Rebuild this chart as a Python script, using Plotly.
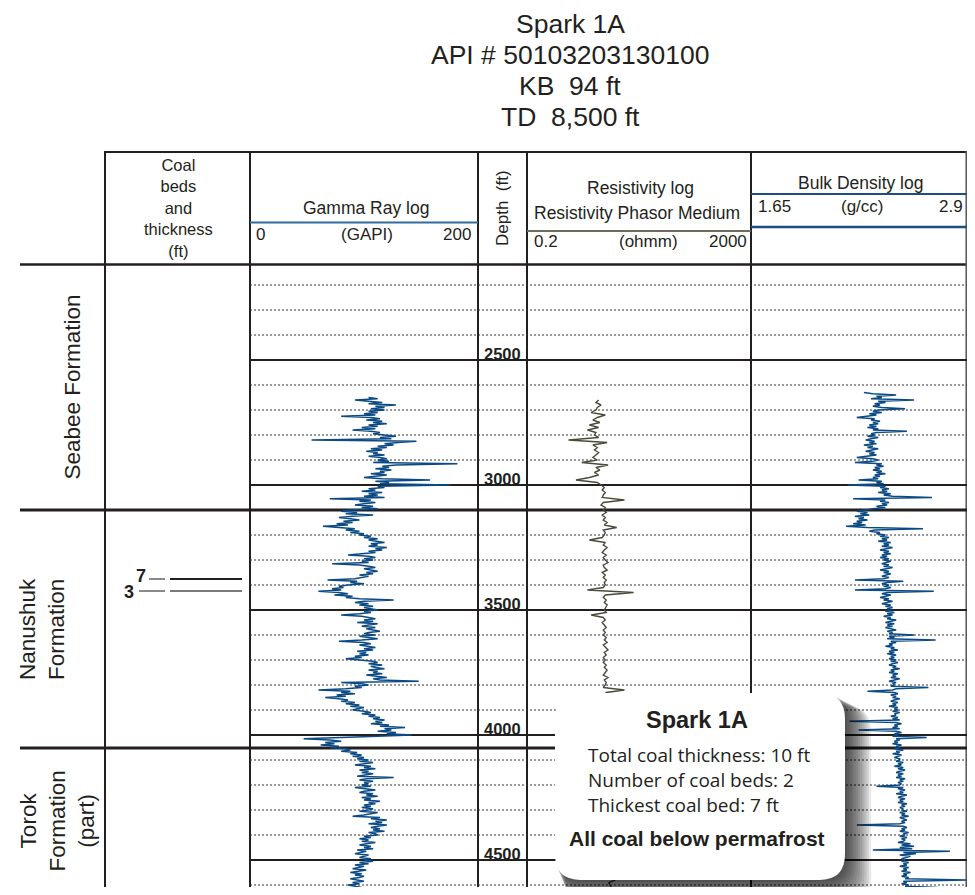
import plotly.graph_objects as go
import math

# The page body has an 8px margin; size the figure so the page never overflows the 975x895 window
OFF = 8
W, H = 975 - 2 * OFF, 895 - 2 * OFF
RIGHT = OFF + W   # last window column covered by the figure
BOTTOM = OFF + H  # last window row covered by the figure

# ---------------- data ----------------
title_lines = ["Spark 1A", "API # 50103203130100", "KB  94 ft", "TD  8,500 ft"]

depth_top = 2120
depth_labels = [2500, 3000, 3500, 4000, 4500]
minor_depths = [2200, 2300, 2400, 2600, 2700, 2800, 2900, 3100, 3200, 3300, 3400,
                3600, 3700, 3800, 3900, 4100, 4200, 4300, 4400, 4600]

formation_names = ["Seabee Formation", "Nanushuk<br>Formation", "Torok<br>Formation<br>(part)"]
formation_tops = [2120, 3100, 4052]
formation_bases = [3100, 4052, 4640]

coal_depths = [3376, 3424]
coal_thickness = [7, 3]

# Gamma ray (GAPI), 5 ft samples from 2650 ft
gamma_start, gamma_step = 2650, 5
gamma = [
    104, 112, 92, 108, 116, 104, 128, 110, 118, 106,
    118, 104, 112, 100, 110, 80, 106, 114, 102, 116, 108, 120, 104, 112, 98, 110, 90, 106, 114, 108,
    120, 128, 114, 124, 54, 146, 130, 118, 126, 112, 120, 106, 116, 102, 112, 108, 118, 104, 114, 120,
    112, 122, 108, 182, 128, 116, 122, 110, 124, 114, 118, 106, 120, 112, 100, 116, 158, 110, 122, 114,
    176, 112, 118, 104, 110, 98, 116, 104, 112, 100, 118, 70, 106, 96, 110, 100, 92, 108, 98, 112,
    88, 80, 94, 84, 108, 90, 78, 88, 96, 82, 90, 76, 86, 64, 80, 92, 84, 96, 88, 100,
    96, 106, 100, 112, 104, 110, 118, 106, 112, 104, 120, 110, 116, 104, 110, 98, 86, 104, 110, 100,
    108, 98, 104, 72, 96, 104, 110, 100, 106, 112, 102, 108, 96, 104, 98, 92, 68, 94, 88, 100,
    86, 78, 82, 72, 80, 60, 78, 86, 74, 90, 84, 96, 126, 100, 92, 104, 96, 108, 100, 106,
    112, 100, 106, 96, 80, 98, 104, 110, 100, 108, 94, 112, 104, 98, 110, 102, 108, 114, 104, 100,
    110, 96, 104, 112, 98, 78, 100, 106, 96, 104, 110, 100, 108, 94, 102, 96, 104, 92, 98, 84,
    100, 108, 112, 104, 116, 106, 110, 118, 104, 112, 108, 116, 102, 112, 120, 108, 114, 148, 80, 98,
    104, 92, 98, 84, 60, 88, 80, 92, 76, 84, 66, 78, 86, 80, 92, 84, 96, 88, 100, 94,
    90, 100, 106, 98, 110, 104, 114, 108, 118, 110, 116, 106, 122, 114, 136, 118, 124, 112, 128, 120,
    142, 112, 76, 47, 70, 80, 66, 74, 62, 78, 70, 84, 88, 80, 94, 88, 98, 90, 100, 94,
    104, 96, 108, 100, 92, 106, 100, 110, 96, 104, 98, 108, 100, 94, 126, 102, 96, 108, 100, 104,
    98, 106, 92, 104, 110, 100, 96, 108, 102, 112, 98, 106, 100, 114, 104, 110, 100, 106, 98, 108,
    104, 96, 112, 106, 100, 90, 114, 106, 120, 110, 116, 104, 120, 112, 106, 114, 108, 118, 104, 110,
    112, 100, 106, 96, 104, 98, 110, 102, 96, 106, 100, 108, 94, 102, 98, 92, 104, 100, 96, 106,
    100, 108, 96, 104, 92, 100, 96, 90, 102, 94, 88, 98, 92, 100, 96, 88, 94, 100, 90, 96,
    86, 94, 98, 90, 96, 88, 94, 92, 96,
]

# Resistivity phasor medium (ohmm), 10 ft samples from 2660 ft
res_start, res_step = 2660, 10
resistivity = [
    3.8, 3.4, 4.2, 3.6,
    3.4, 2.8, 5.0, 3.6, 3.0, 4.0, 2.6, 3.8, 2.4, 3.4,
    3.2, 3.8, 1.1, 5.4, 3.0, 3.6, 3.2, 3.8, 3.4, 3.0,
    3.6, 1.9, 5.6, 3.4, 4.0, 3.2, 3.8, 2.6, 1.5, 3.6,
    4.2, 4.8, 4.4, 5.0, 4.6, 4.4, 11.0, 4.6, 4.2, 5.0,
    4.6, 5.2, 4.4, 5.0, 4.6, 5.4, 4.8, 8.0, 4.6, 5.0,
    4.8, 4.4, 2.6, 5.0, 4.6, 5.4, 4.8, 4.4, 5.2, 4.6,
    5.0, 5.6, 4.6, 4.8, 5.4, 4.4, 5.0, 4.6, 5.2, 4.8,
    5.0, 4.6, 2.4, 16.0, 5.0, 4.6, 5.2, 4.8, 5.4, 5.0,
    4.8, 5.2, 2.8, 4.6, 5.0, 4.4, 4.8, 5.2, 4.6, 5.0,
    4.6, 5.2, 4.8, 5.4, 4.6, 5.0, 5.6, 4.8, 5.2, 4.6,
    5.0, 4.6, 5.2, 4.8, 5.4, 5.0, 4.6, 5.6, 4.8, 5.2,
    5.0, 4.6, 11.0, 5.2, 4.8, 5.4, 5.0, 4.6, 5.2, 4.8,
    5.0, 5.4, 4.8, 5.2, 4.6, 5.0, 5.6, 4.8, 5.2, 5.0,
    4.8, 5.4, 5.0, 4.6, 5.2, 5.0, 5.6, 4.8, 5.2, 5.4,
    5.0, 5.6, 5.2, 4.8, 5.4, 5.8, 5.0, 5.4, 5.2, 5.6,
    5.4, 5.0, 5.6, 5.8, 5.2, 5.6, 5.4, 6.0, 5.2, 5.6,
    5.8, 5.4, 6.0, 5.6, 5.2, 5.8, 6.2, 5.6, 5.4, 5.8,
    6.0, 5.6, 6.2, 5.8, 5.4, 6.0, 5.8, 6.4, 5.6, 6.0,
    5.8, 6.2, 6.0, 5.6, 6.4, 6.0, 5.8, 6.2, 7.5, 5.8,
    6.0, 6.4, 5.8, 6.2, 6.0,
]

# Bulk density (g/cc), 5 ft samples from 2630 ft
rho_start, rho_step = 2630, 5
density = [
    2.28, 2.33, 2.46, 2.35, 2.38, 2.32, 2.56, 2.36, 2.40, 2.34, 2.37, 2.33, 2.38, 2.51,
    2.36, 2.33, 2.38, 2.31, 2.35, 2.29, 2.24, 2.34, 2.32, 2.37, 2.33, 2.36, 2.31, 2.35, 2.30, 2.36, 2.33, 2.52, 2.35, 2.32,
    2.34, 2.30, 2.36, 2.32, 2.29, 2.34, 2.31, 2.35, 2.28, 2.33, 2.30, 2.36, 2.32, 2.29, 2.34, 2.31, 2.35, 2.30, 2.24, 2.33,
    2.36, 2.33, 2.23, 2.38, 2.35, 2.39, 2.34, 2.37, 2.33, 2.38, 2.35, 2.40, 2.34, 2.37, 2.33, 2.36, 2.25, 2.38, 2.35, 2.39,
    2.19, 2.40, 2.37, 2.42, 2.38, 2.41, 2.36, 2.43, 2.39, 2.44, 2.66, 2.22, 2.40, 2.37, 2.42, 2.38, 2.41, 2.35, 2.40, 2.33,
    2.29, 2.24, 2.30, 2.26, 2.31, 2.23, 2.28, 2.25, 2.30, 2.24, 2.27, 2.22, 2.29, 2.18, 2.30, 2.61, 2.34, 2.31, 2.37, 2.35,
    2.40, 2.37, 2.42, 2.38, 2.41, 2.36, 2.43, 2.39, 2.42, 2.38, 2.44, 2.40, 2.37, 2.42, 2.39, 2.43, 2.38, 2.41, 2.37, 2.42,
    2.39, 2.43, 2.40, 2.38, 2.42, 2.39, 2.44, 2.40, 2.37, 2.42, 2.39, 2.43, 2.40, 2.38, 2.42, 2.39, 2.23, 2.50, 2.41, 2.38,
    2.42, 2.39, 2.43, 2.40, 2.23, 2.67, 2.41, 2.38, 2.43, 2.40, 2.37, 2.42, 2.39, 2.44, 2.41, 2.38, 2.43, 2.40, 2.44, 2.41,
    2.43, 2.40, 2.45, 2.41, 2.44, 2.39, 2.43, 2.41, 2.46, 2.42, 2.40, 2.45, 2.41, 2.44, 2.40, 2.43, 2.46, 2.41, 2.44, 2.42,
    2.56, 2.42, 2.45, 2.41, 2.68, 2.43, 2.46, 2.42, 2.44, 2.40, 2.45, 2.43, 2.47, 2.42, 2.45, 2.41, 2.46, 2.43, 2.45, 2.42,
    2.46, 2.43, 2.47, 2.44, 2.42, 2.46, 2.44, 2.48, 2.43, 2.45, 2.42, 2.47, 2.44, 2.46, 2.43, 2.48, 2.45, 2.42, 2.46, 2.44,
    2.45, 2.43, 2.64, 2.46, 2.44, 2.30, 2.45, 2.47, 2.43, 2.46, 2.44, 2.48, 2.45, 2.43, 2.47, 2.44, 2.46, 2.42, 2.47, 2.45,
    2.47, 2.44, 2.48, 2.45, 2.46, 2.43, 2.47, 2.44, 2.48, 2.20, 2.46, 2.49, 2.45, 2.47, 2.44, 2.48, 2.25, 2.46, 2.49, 2.45,
    2.47, 2.44, 2.63, 2.46, 2.48, 2.45, 2.47, 2.44, 2.49, 2.46, 2.48, 2.45, 2.50, 2.46, 2.48, 2.44, 2.49, 2.47, 2.45, 2.48,
    2.48, 2.46, 2.50, 2.47, 2.49, 2.45, 2.50, 2.47, 2.51, 2.48, 2.46, 2.50, 2.47, 2.49, 2.46, 2.51, 2.48, 2.50, 2.47, 2.49,
    2.48, 2.35, 2.50, 2.47, 2.51, 2.48, 2.50, 2.46, 2.52, 2.49, 2.47, 2.51, 2.48, 2.50, 2.47, 2.52, 2.49, 2.51, 2.48, 2.50,
    2.49, 2.52, 2.48, 2.51, 2.49, 2.53, 2.48, 2.50, 2.52, 2.49, 2.51, 2.48, 2.24, 2.50, 2.52, 2.49, 2.51, 2.48, 2.53, 2.50,
    2.51, 2.48, 2.52, 2.49, 2.51, 2.50, 2.47, 2.54, 2.49, 2.56, 2.48, 2.55, 2.33, 2.76, 2.50, 2.57, 2.48, 2.54, 2.51, 2.49,
    2.51, 2.49, 2.53, 2.50, 2.52, 2.48, 2.53, 2.50, 2.52, 2.49, 2.54, 2.50, 2.52, 2.49, 2.53, 2.51, 2.90, 2.50, 2.52, 2.49,
    2.53, 2.51, 2.69, 2.50, 2.52, 2.49, 2.53, 2.50, 2.52,
]
density_min, density_max = 1.65, 2.9   # header scale across the full 224 px track

summary_title = "Spark 1A"
summary_lines = ["Total coal thickness: 10 ft", "Number of coal beds: 2", "Thickest coal bed: 7 ft"]
summary_note = "All coal below permafrost"

gamma_depth = [gamma_start + gamma_step * i for i in range(len(gamma))]
res_depth = [res_start + res_step * i for i in range(len(resistivity))]
rho_depth = [rho_start + rho_step * i for i in range(len(density))]

# depth scale: 2500 ft at window row 360, 4 ft per pixel; log area starts at row 265
FT_PER_PX = 4.0
depth_visible_bottom = depth_top + (BOTTOM - 265) * FT_PER_PX

# ---------------- helpers (window pixel -> paper) ----------------
def PX(x):
    return (x - OFF) / W

def PY(y):
    return 1 - (y - OFF) / H

FONT = "Liberation Sans, Arial, Helvetica, sans-serif"
BODY = "Open Sans, Noto Sans, sans-serif"
INK = "#231f20"
BLUE = "#0b4a85"

shapes = []
annotations = []

def pline(x0, y0, x1, y1, width=2, color=INK, dash="solid", layer="below"):
    shapes.append(dict(type="line", xref="paper", yref="paper",
                       x0=PX(x0), y0=PY(y0), x1=PX(x1), y1=PY(y1),
                       line=dict(color=color, width=width, dash=dash), layer=layer))

def dline(x0, x1, depth, width=2, color=INK, dash="solid", layer="below"):
    shapes.append(dict(type="line", xref="paper", yref="y",
                       x0=PX(x0), y0=depth, x1=PX(x1), y1=depth,
                       line=dict(color=color, width=width, dash=dash), layer=layer))

def text(t, x, y, size=17, bold=False, xanchor="center", yanchor="middle", angle=0,
         family=FONT, color=INK, yref="paper", yshift=0):
    if bold:
        t = "<b>" + t + "</b>"
    annotations.append(dict(text=t, xref="paper", yref=yref, x=PX(x),
                            y=(PY(y) if yref == "paper" else y),
                            xanchor=xanchor, yanchor=yanchor, showarrow=False,
                            textangle=angle, yshift=yshift,
                            font=dict(family=family, size=size, color=color)))

def rrect_path(x0, y0, x1, y1, r):
    def p(x, y):
        return f"{PX(x):.5f},{PY(y):.5f}"
    return (f"M {p(x0 + r, y0)} L {p(x1 - r, y0)} Q {p(x1, y0)} {p(x1, y0 + r)} "
            f"L {p(x1, y1 - r)} Q {p(x1, y1)} {p(x1 - r, y1)} "
            f"L {p(x0 + r, y1)} Q {p(x0, y1)} {p(x0, y1 - r)} "
            f"L {p(x0, y0 + r)} Q {p(x0, y0)} {p(x0 + r, y0)} Z")

# ---------------- figure ----------------
fig = go.Figure()

fig.add_trace(go.Scatter(x=gamma, y=gamma_depth, xaxis="x", yaxis="y", mode="lines",
                         line=dict(color=BLUE, width=1.35), hoverinfo="skip"))
fig.add_trace(go.Scatter(x=resistivity, y=res_depth, xaxis="x2", yaxis="y", mode="lines",
                         line=dict(color="#4b4b3c", width=1.4), hoverinfo="skip"))
fig.add_trace(go.Scatter(x=density, y=rho_depth, xaxis="x3", yaxis="y", mode="lines",
                         line=dict(color=BLUE, width=1.35), hoverinfo="skip"))

# Title
for i, t in enumerate(title_lines):
    text(t, 570, 23.5 + i * 31, size=26.5)

# Header frame
pline(104, 152, RIGHT, 152, width=2)
pline(20, 264.5, RIGHT, 264.5, width=2.5)
for xv in [105, 250, 478, 527, 751]:
    pline(xv, 151, xv, BOTTOM, width=2)
pline(RIGHT - 0.8, 151, RIGHT - 0.8, BOTTOM, width=1.5, color="#555555")

# Header texts
text("Coal<br>beds<br>and<br>thickness<br>(ft)", 178, 208, size=16.5)
text("Gamma Ray log", 366, 208, size=17.5)
pline(250, 222.5, 478, 222.5, width=2, color="#2f6c9e")
text("0", 254, 235, size=17, xanchor="left")
text("(GAPI)", 367, 235, size=17)
text("200", 473, 235, size=17, xanchor="right")

text("Depth  (ft)", 502, 208, size=17, angle=-90)

text("Resistivity log", 640, 188, size=17.5)
text("Resistivity Phasor Medium", 637, 213, size=17.5)
pline(527, 231, 751, 231, width=2, color="#6d6d5c")
text("0.2", 532, 241, size=17, xanchor="left")
text("(ohmm)", 648, 241, size=17)
text("2000", 749, 241, size=17, xanchor="right")

text("Bulk Density log", 860, 183, size=17.5)
pline(751, 194, RIGHT, 194, width=2, color="#1f4f80")
text("1.65", 756, 207, size=17, xanchor="left")
text("(g/cc)", 862, 207, size=17)
text("2.9", RIGHT - 2, 207, size=17, xanchor="right")
pline(751, 227, RIGHT, 227, width=2.5, color="#1f4f80")

# Depth grid
for d in minor_depths:
    dline(250, RIGHT, d, width=1, color="#333333", dash="2px,2px")
for d in depth_labels:
    dline(250, RIGHT, d, width=2)
    text(str(d), 523, d, size=16.5, bold=True, xanchor="right", yanchor="bottom",
         yref="y", yshift=-5)

# Formation boundaries and names
for top in formation_tops[1:]:
    dline(20, RIGHT, top, width=3)
name_x = [72, 42, 57]
for name, top, base, nx in zip(formation_names, formation_tops, formation_bases, name_x):
    text(name, nx, (top + base) / 2, size=22.5, angle=-90, yref="y")

# Coal beds
coal_label_x = [141, 129]
coal_line_color = [INK, "#7a7a7a"]
coal_dash_start = [149, 139]
for d, th, lx, lc, ds in zip(coal_depths, coal_thickness, coal_label_x, coal_line_color, coal_dash_start):
    dline(ds, 165, d, width=2, color="#8a8a8a")
    dline(170, 242, d, width=2, color=lc)
    text(str(th), lx, d, size=18, bold=True, yref="y", yshift=(3 if th == 7 else -1))

# Summary box with soft shadow
bx0, by0, bx1, by1, rad = 555, 693, 845, 880, 26
for k in range(12):
    off = 2 + k * 2.2
    shapes.append(dict(type="path", xref="paper", yref="paper",
                       path=rrect_path(bx0 + off * 0.4, by0 + off * 0.5, bx1 + off, by1 + off, rad),
                       fillcolor="rgba(0,0,0,0.085)", line=dict(width=0), layer="above"))
shapes.append(dict(type="path", xref="paper", yref="paper",
                   path=rrect_path(bx0, by0, bx1, by1, rad),
                   fillcolor="white", line=dict(width=0), layer="above"))

text(summary_title, 697, 720, size=23.5, bold=True)
for i, t in enumerate(summary_lines):
    text(t, 586, 755 + i * 25, size=19, xanchor="left", family=BODY)
text(summary_note, 697, 838, size=21, bold=True)

# density track keeps its 224 px-per-(1.65..2.9) scale; the figure ends at window column RIGHT
density_visible_max = density_min + (density_max - density_min) * (RIGHT - 751) / 224.0

fig.update_layout(
    width=W, height=H,
    margin=dict(l=0, r=0, t=0, b=0),
    paper_bgcolor="white",
    plot_bgcolor="rgba(0,0,0,0)",
    showlegend=False,
    xaxis=dict(domain=[PX(250), PX(478)], range=[0, 200], visible=False, anchor="y"),
    xaxis2=dict(domain=[PX(527), PX(751)], type="log",
                range=[math.log10(0.2), math.log10(2000)], visible=False, anchor="y"),
    xaxis3=dict(domain=[PX(751), 1.0], range=[density_min, density_visible_max],
                visible=False, anchor="y"),
    yaxis=dict(domain=[0, PY(265)], range=[depth_visible_bottom, depth_top], visible=False),
    shapes=shapes,
    annotations=annotations,
)

fig.write_html("out.html")
